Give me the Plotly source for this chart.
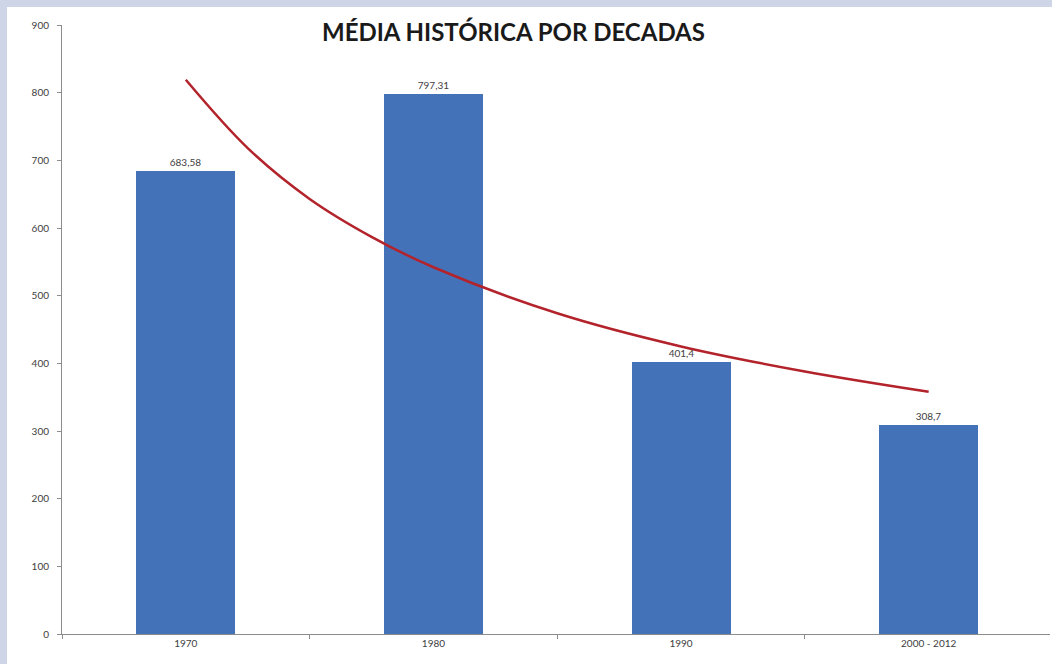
import plotly.graph_objects as go

categories = ["1970", "1980", "1990", "2000 - 2012"]
values = [683.58, 797.31, 401.4, 308.7]
value_labels = ["683,58", "797,31", "401,4", "308,7"]

# trendline (power) values at category positions
trend_x = [1, 1.25, 1.5, 1.75, 2, 2.5, 3, 3.5, 4]
trend_y = [819, 718, 643, 587, 542, 474, 425, 388, 358]

y_ticks = [0, 100, 200, 300, 400, 500, 600, 700, 800, 900]

positions = list(range(1, len(categories) + 1))

fig = go.Figure()
fig.add_trace(go.Bar(
    x=positions, y=values, width=0.4,
    marker=dict(color="#4472b8", line=dict(width=0)),
    text=value_labels, textposition="outside", cliponaxis=False,
    textfont=dict(family="Lato, Liberation Sans, sans-serif", size=10, color="#404040"),
    hoverinfo="skip",
))
fig.add_trace(go.Scatter(
    x=trend_x, y=trend_y, mode="lines",
    line=dict(color="#b3232b", width=2.5, shape="spline", smoothing=1.0),
    hoverinfo="skip",
))

fig.add_shape(type="rect", xref="paper", yref="paper",
              x0=-0.0557, x1=1.1, y0=-0.2, y1=1.0296,
              fillcolor="white", line=dict(width=0), layer="below")

fig.add_annotation(
    text="<b>MÉDIA HISTÓRICA POR DECADAS</b>",
    xref="paper", yref="paper", x=0.4565, y=0.990,
    xanchor="center", yanchor="middle", showarrow=False,
    font=dict(family="Lato, Open Sans, sans-serif", size=24, color="#1a1a1a"),
)

fig.update_layout(
    width=1052, height=664,
    margin=dict(l=62, r=2, t=25, b=30),
    paper_bgcolor="#cdd5e6", plot_bgcolor="white",
    showlegend=False, bargap=0,
    font=dict(family="Lato, Liberation Sans, sans-serif", size=10, color="#404040"),
    xaxis=dict(
        range=[0.5, 4.49], tickmode="array", tickvals=positions, ticktext=categories,
        ticks="", showgrid=False, zeroline=False,
        showline=True, linecolor="#8c8c8c", linewidth=1,
        tickfont=dict(size=10, color="#404040"),
        minor=dict(tick0=0.5, dtick=1, ticks="outside", ticklen=4, tickcolor="#8c8c8c", showgrid=False),
        fixedrange=True,
    ),
    yaxis=dict(
        range=[0, 900], tickmode="array", tickvals=y_ticks,
        ticks="outside", ticklen=4, tickcolor="#8c8c8c",
        showgrid=False, zeroline=False,
        showline=True, linecolor="#8c8c8c", linewidth=1,
        tickfont=dict(size=10, color="#404040"), ticklabelstandoff=6,
        fixedrange=True,
    ),
)

fig.write_html("out.html")
